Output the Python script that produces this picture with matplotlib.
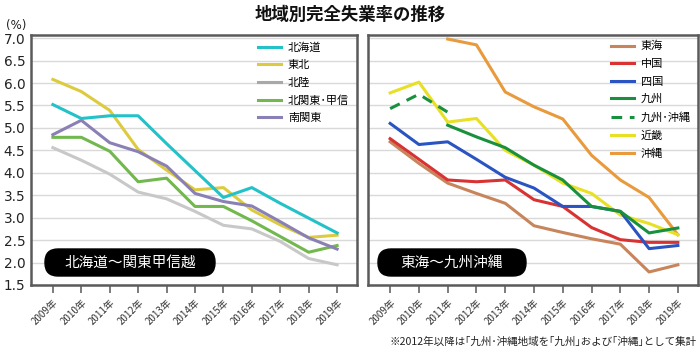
import matplotlib
matplotlib.use("Agg")
import matplotlib.pyplot as plt
from matplotlib.lines import Line2D
from matplotlib.patches import FancyBboxPatch
from matplotlib.transforms import IdentityTransform
import numpy as np

plt.rcParams['font.family'] = ['Noto Sans CJK JP', 'DejaVu Sans']

years = ["2009年", "2010年", "2011年", "2012年", "2013年", "2014年",
         "2015年", "2016年", "2017年", "2018年", "2019年"]

# Left panel (北海道〜関東甲信越)
hokkaido = [5.52, 5.21, 5.27, 5.27, 4.65, 4.05, 3.45, 3.67, 3.32, 2.99, 2.66]
tohoku = [6.08, 5.81, 5.39, 4.52, 4.06, 3.62, 3.67, 3.17, 2.84, 2.56, 2.61]
hokuriku = [4.56, 4.28, 3.97, 3.57, 3.42, 3.14, 2.83, 2.75, 2.47, 2.09, 1.95]
kitakanto = [4.79, 4.79, 4.48, 3.80, 3.88, 3.25, 3.25, 2.93, 2.58, 2.23, 2.38]
minamikanto = [4.85, 5.17, 4.67, 4.47, 4.15, 3.54, 3.36, 3.26, 2.91, 2.55, 2.30]

# Right panel (東海〜九州沖縄)
tokai = [4.69, 4.21, 3.77, 3.54, 3.32, 2.82, 2.67, 2.53, 2.41, 1.79, 1.95]
chugoku = [4.76, 4.30, 3.84, 3.80, 3.84, 3.40, 3.25, 2.78, 2.51, 2.45, 2.45]
shikoku = [5.10, 4.63, 4.69, 4.30, 3.90, 3.66, 3.25, 3.25, 3.14, 2.31, 2.38]
kyushu = [None, None, 5.06, 4.80, 4.56, 4.17, 3.84, 3.25, 3.14, 2.66, 2.77]
kyushu_okinawa = [5.43, 5.75, 5.35, None, None, None, None, None, None, None, None]
kinki = [5.78, 6.02, 5.13, 5.21, 4.50, 4.17, 3.77, 3.54, 3.06, 2.87, 2.62]
okinawa = [None, None, 6.98, 6.85, 5.80, 5.47, 5.20, 4.39, 3.84, 3.45, 2.62]

yticks = [1.5, 2.0, 2.5, 3.0, 3.5, 4.0, 4.5, 5.0, 5.5, 6.0, 6.5, 7.0]


def arr(v):
    return np.array([np.nan if x is None else x for x in v], dtype=float)


W, H = 700, 351
fig = plt.figure(figsize=(W / 100, H / 100), dpi=100)
fig.patch.set_facecolor("white")

axL = fig.add_axes([31 / W, 1 - 285 / H, 326 / W, 250 / H])
axR = fig.add_axes([368 / W, 1 - 285 / H, 330 / W, 250 / H])

x = np.arange(len(years))
lw = 2.2

for ax in (axL, axR):
    ax.set_xlim(-0.77, 10.7)
    ax.set_ylim(1.5, 7.07)
    ax.set_yticks(yticks)
    ax.yaxis.grid(True, color="#d9d9d9", linewidth=1.0)
    ax.set_axisbelow(True)
    for s in ax.spines.values():
        s.set_color("#5a5a5a")
        s.set_linewidth(1.8)
    ax.set_xticks(x)
    ax.set_xticklabels(years, rotation=45, ha="right", rotation_mode="anchor",
                       fontsize=7, color="#333333")
    ax.tick_params(axis="x", length=6, width=1.2, color="#666666", pad=3)
    ax.tick_params(axis="y", length=0)

axL.set_yticklabels([f"{v:.1f}" for v in yticks], fontsize=9.8,
                    family="DejaVu Sans", color="#222222")
axL.tick_params(axis="y", pad=4)
axR.set_yticklabels([])

# Left lines
axL.plot(x, hokuriku, color="#c8c8c8", lw=lw)
axL.plot(x, kitakanto, color="#72b84e", lw=lw)
axL.plot(x, tohoku, color="#dccb3e", lw=lw)
axL.plot(x, minamikanto, color="#8a80b6", lw=lw)
axL.plot(x, hokkaido, color="#22c2c8", lw=lw)

handlesL = [
    Line2D([], [], color="#22c2c8", lw=lw),
    Line2D([], [], color="#dccb3e", lw=lw),
    Line2D([], [], color="#a8a8a8", lw=lw),
    Line2D([], [], color="#72b84e", lw=lw),
    Line2D([], [], color="#8a80b6", lw=lw),
]
labelsL = ["北海道", "東北", "北陸", "北関東･甲信", "南関東"]
fig.legend(handlesL, labelsL, loc="upper left", bbox_to_anchor=(258 / W, 1 - 42 / H),
           frameon=False, fontsize=8, handlelength=2.1, handletextpad=0.6,
           labelspacing=0.68, borderpad=0, borderaxespad=0)

# Right lines
axR.plot(x, arr(tokai), color="#c8845a", lw=lw)
axR.plot(x, arr(okinawa), color="#e89a3c", lw=lw)
axR.plot(x, arr(kinki), color="#e8e024", lw=lw)
axR.plot(x, arr(chugoku), color="#d83232", lw=lw)
axR.plot(x, arr(shikoku), color="#2a54c2", lw=lw)
axR.plot(x, arr(kyushu), color="#18903e", lw=lw)
axR.plot(x, arr(kyushu_okinawa), color="#18903e", lw=lw, ls=(0, (3.5, 2.5)))

handlesR = [
    Line2D([], [], color="#c8845a", lw=lw),
    Line2D([], [], color="#d83232", lw=lw),
    Line2D([], [], color="#2a54c2", lw=lw),
    Line2D([], [], color="#18903e", lw=lw),
    Line2D([], [], color="#18903e", lw=lw, ls=(0, (3.5, 2.5))),
    Line2D([], [], color="#e8e024", lw=lw),
    Line2D([], [], color="#e89a3c", lw=lw),
]
labelsR = ["東海", "中国", "四国", "九州", "九州･沖縄", "近畿", "沖縄"]
fig.legend(handlesR, labelsR, loc="upper left", bbox_to_anchor=(611 / W, 1 - 41 / H),
           frameon=False, fontsize=8, handlelength=2.1, handletextpad=0.6,
           labelspacing=0.68, borderpad=0, borderaxespad=0)

# Region labels: rounded black boxes in pixel coordinates
for (x0, x1, label) in [(45, 215, "北海道〜関東甲信越"), (378, 526, "東海〜九州沖縄")]:
    y0, y1 = H - 276, H - 249
    patch = FancyBboxPatch((x0, y0), x1 - x0, y1 - y0,
                           boxstyle="round,pad=0,rounding_size=13",
                           fc="black", ec="black", transform=IdentityTransform())
    fig.add_artist(patch)
    fig.text((x0 + x1) / 2 / W, (y0 + y1) / 2 / H, label, color="white",
             fontsize=10.5, ha="center", va="center")

# Title and annotations
fig.text(350 / W, 1 - 15 / H, "地域別完全失業率の推移", ha="center", va="center",
         fontsize=12.5, fontweight="bold", color="#111111")
fig.text(6 / W, 1 - 26 / H, "(%)", ha="left", va="center", fontsize=8.5,
         family="DejaVu Sans", color="#222222")
fig.text(697 / W, 1 - 342 / H, "※2012年以降は｢九州･沖縄地域を｢九州｣および｢沖縄｣として集計",
         ha="right", va="center", fontsize=7.6, color="#222222")

fig.savefig("out.png", dpi=100, facecolor="white")
